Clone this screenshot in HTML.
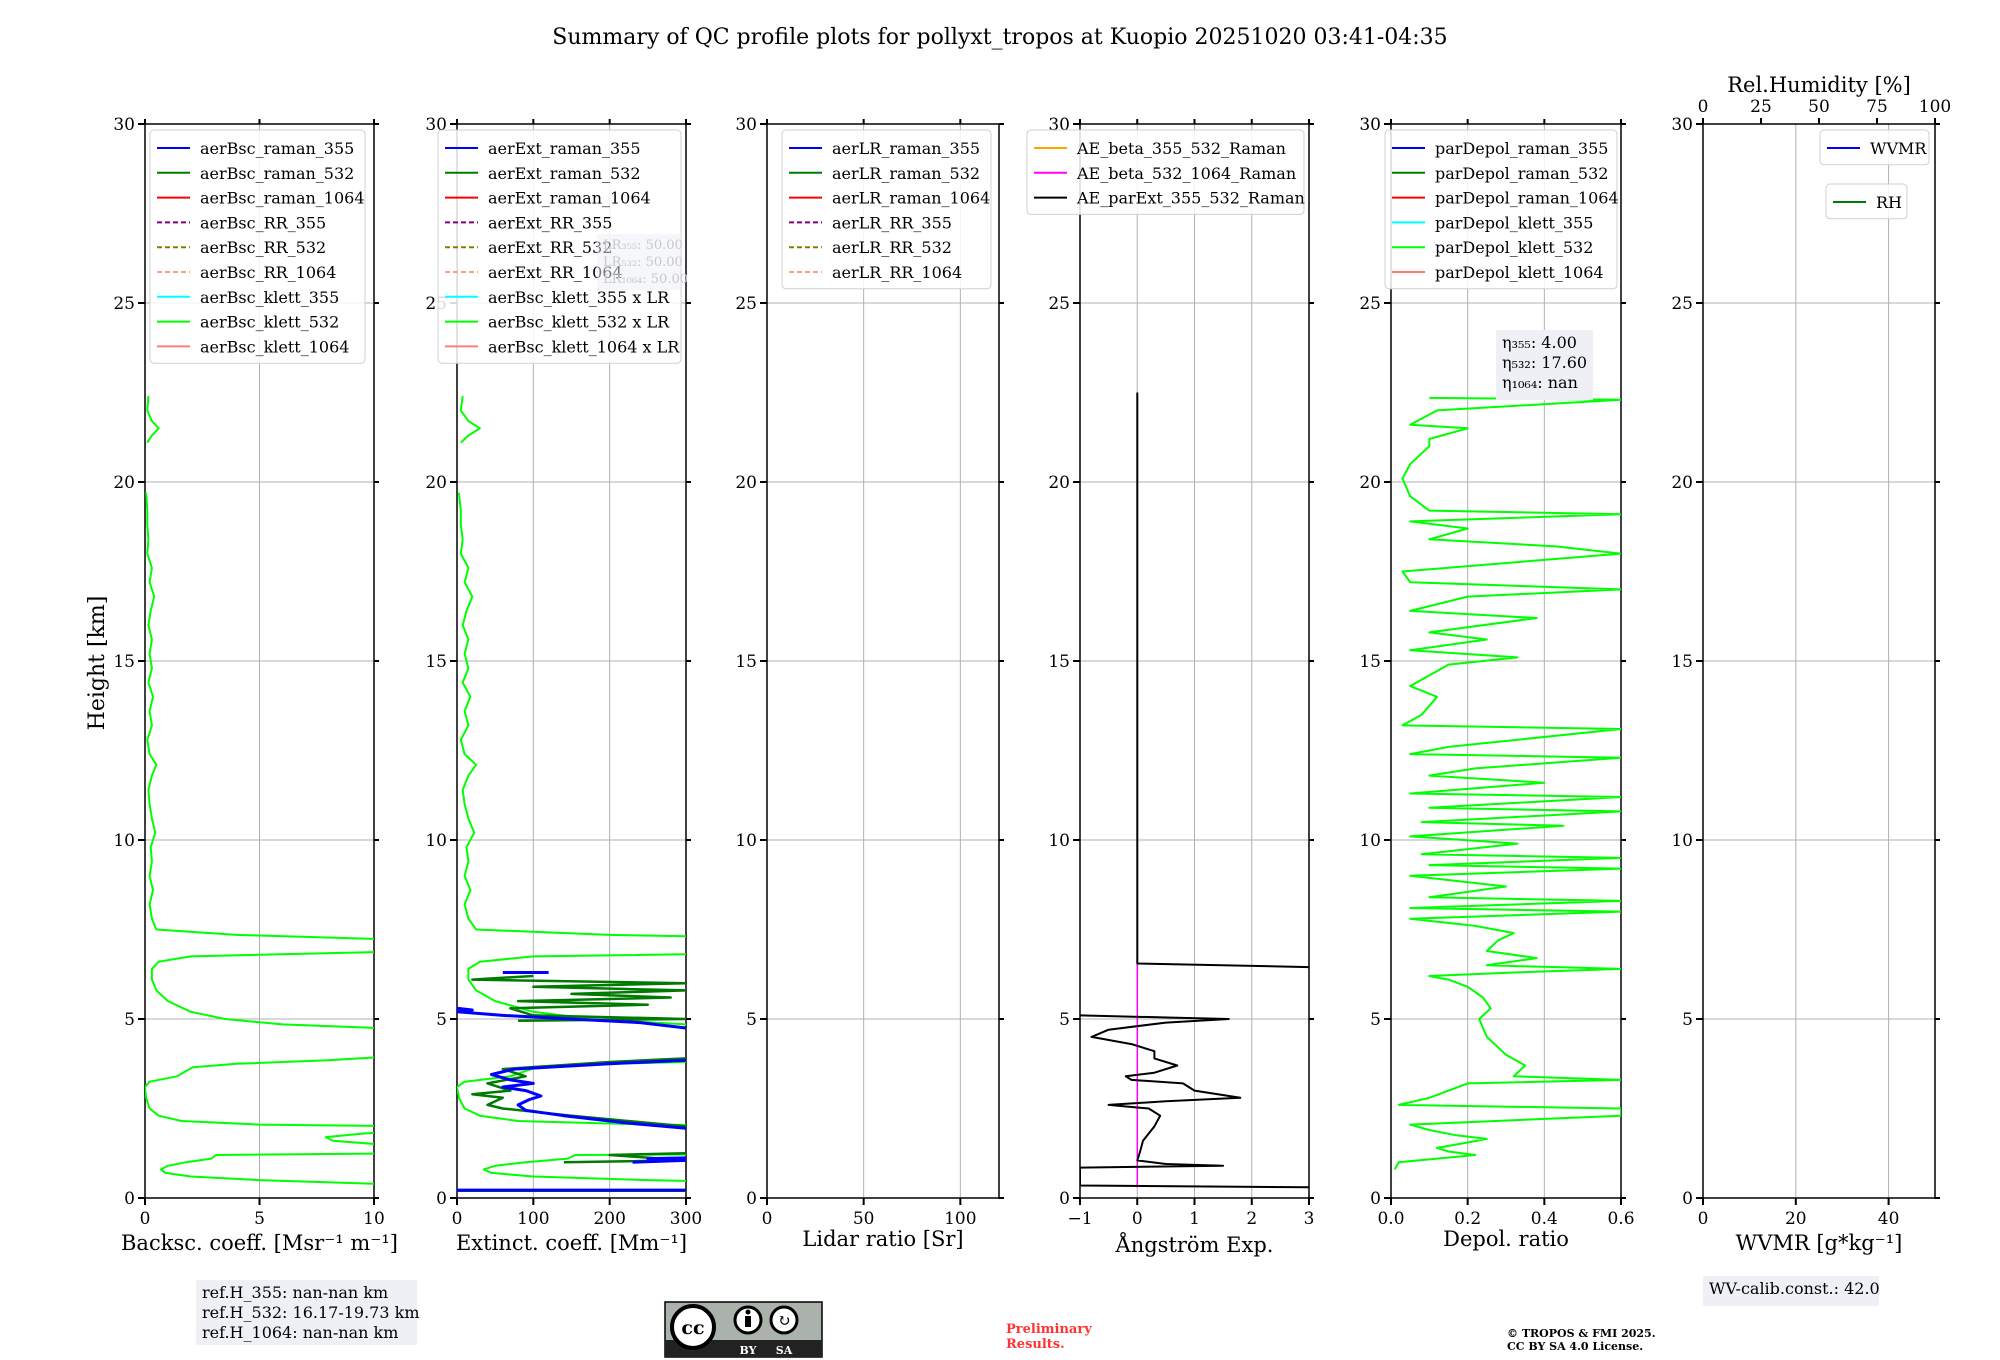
<!DOCTYPE html>
<html><head><meta charset="utf-8"><title>QC profiles</title>
<style>
html,body{margin:0;padding:0;background:#fff;}
svg{display:block;font-family:"DejaVu Serif","Liberation Serif",serif;}
</style></head>
<body>
<svg id="fig" width="2000" height="1360" viewBox="0 0 2000 1360" xmlns="http://www.w3.org/2000/svg">
<text x="1000" y="44" font-size="22" text-anchor="middle">Summary of QC profile plots for pollyxt_tropos at Kuopio 20251020 03:41-04:35</text>
<text transform="translate(104,663) rotate(-90)" font-size="22" text-anchor="middle">Height [km]</text>
</svg>
<script>
// ---- data ----
const heightTicks = [0,5,10,15,20,25,30];
const bscTicks = [0,5,10];
const extTicks = [0,100,200,300];
const lrTicks = [0,50,100];
const aeTicks = [-1,0,1,2,3];
const depTicks = [0.0,0.2,0.4,0.6];
const depTickLabels = ["0.0","0.2","0.4","0.6"];
const wvTicks = [0,20,40];
const rhTicks = [0,25,50,75,100];
const lidarRatio = [50,50,50];
// klett 532 backscatter profile [height km, value Msr-1 m-1]
const bscKlett532 = [[0.3,12],[0.4,10],[0.5,5],[0.6,2],[0.7,0.9],[0.8,0.7],[0.9,1.0],[1.0,1.8],[1.1,2.9],[1.2,3.1],[1.25,12],[1.35,12],[1.5,10.2],[1.6,8.2],[1.7,7.9],[1.8,9.5],[1.9,12],[2.0,12],[2.05,5],[2.15,1.6],[2.3,0.6],[2.5,0.2],[2.8,0.05],[3.1,0],[3.25,0.2],[3.4,1.4],[3.55,1.8],[3.65,2.1],[3.75,4],[3.85,8],[4.0,12],[4.7,12],[4.85,6],[5.0,3.5],[5.2,2],[5.5,1],[5.8,0.5],[6.1,0.3],[6.4,0.3],[6.6,0.6],[6.75,2],[6.9,12],[7.2,12],[7.35,4],[7.5,0.5],[7.8,0.3],[8.2,0.2],[8.6,0.35],[9.0,0.2],[9.4,0.3],[9.8,0.25],[10.2,0.45],[10.6,0.3],[11.0,0.2],[11.4,0.15],[11.8,0.3],[12.1,0.5],[12.4,0.2],[12.8,0.1],[13.2,0.3],[13.6,0.2],[14.0,0.35],[14.4,0.15],[14.8,0.3],[15.2,0.2],[15.6,0.3],[16.0,0.15],[16.4,0.25],[16.8,0.4],[17.2,0.2],[17.6,0.3],[18.0,0.1],[18.4,0.15],[18.8,0.1],[19.2,0.1],[19.7,0.05],null,[21.1,0.1],[21.3,0.3],[21.5,0.6],[21.7,0.3],[22.0,0.1],[22.4,0.15]];
// Raman extinction [height km, Mm-1]
const extRaman355 = [[0.22,0],[0.22,300],null,[1.0,230],[1.05,300],[1.1,250],[1.12,300],null,[1.95,300],[2.1,220],[2.3,140],[2.45,90],[2.6,80],[2.75,95],[2.85,110],[3.0,90],[3.1,60],[3.2,100],[3.3,70],[3.45,45],[3.6,75],[3.75,200],[3.85,300],null,[4.75,300],[4.9,240],[5.0,150],[5.1,60],[5.2,0],[5.25,20],[5.3,0],null,[6.3,60],[6.3,120]];
const extRaman532 = [[0.2,0],[0.2,300],null,[1.0,140],[1.05,300],[1.2,200],[1.25,300],null,[2.0,300],[2.3,150],[2.5,60],[2.6,40],[2.8,60],[2.9,20],[3.0,70],[3.2,40],[3.4,90],[3.6,60],[3.8,200],[3.9,300],null,[4.95,80],[5.0,300],[5.1,100],[5.3,70],[5.4,250],[5.5,80],[5.6,280],[5.7,150],[5.8,300],[5.9,100],[6.0,300],[6.1,20],[6.2,100]];
// Angstrom exponent parExt 355-532 [height km, AE]
const aeParExt = [[0.3,3],[0.35,-1],[0.85,-1],[0.9,1.5],[0.95,0.5],[1.05,0],[1.3,0.05],[1.6,0.1],[2.0,0.3],[2.3,0.4],[2.5,0.2],[2.6,-0.5],[2.7,0.5],[2.8,1.8],[3.0,1.0],[3.2,0.8],[3.3,-0.1],[3.4,-0.2],[3.5,0.3],[3.7,0.7],[3.9,0.3],[4.1,0.3],[4.3,-0.1],[4.5,-0.8],[4.7,-0.5],[4.9,0.5],[5.0,1.6],[5.1,-1],null,[6.45,3],[6.55,0],[22.5,0]];
const aeBeta532_1064 = [[0.3,0],[6.6,0]];
// particle depol klett 532 [height km, ratio]
const depKlett532 = [[0.8,0.01],[1.0,0.02],[1.1,0.12],[1.2,0.22],[1.3,0.15],[1.4,0.12],[1.55,0.2],[1.65,0.25],[1.75,0.17],[1.9,0.1],[2.05,0.05],[2.3,0.6],[2.5,0.6],[2.6,0.02],[2.8,0.1],[3.2,0.2],[3.3,0.6],[3.4,0.32],[3.7,0.35],[4.0,0.3],[4.5,0.25],[5.0,0.23],[5.3,0.26],[5.6,0.24],[5.9,0.2],[6.1,0.15],[6.2,0.1],[6.3,0.32],[6.4,0.6],[6.5,0.25],[6.7,0.38],[6.9,0.25],[7.2,0.28],[7.4,0.32],[7.6,0.22],[7.8,0.05],[8.0,0.6],[8.1,0.05],[8.3,0.6],[8.4,0.1],[8.7,0.3],[9.0,0.05],[9.2,0.6],[9.3,0.1],[9.5,0.6],[9.6,0.08],[9.9,0.33],[10.1,0.05],[10.4,0.45],[10.5,0.08],[10.8,0.6],[10.9,0.1],[11.2,0.6],[11.3,0.05],[11.6,0.4],[11.8,0.1],[12.0,0.22],[12.3,0.6],[12.4,0.05],[12.6,0.15],[13.1,0.6],[13.2,0.03],[13.5,0.08],[14.0,0.12],[14.3,0.05],[14.9,0.15],[15.1,0.33],[15.3,0.05],[15.6,0.25],[15.8,0.1],[16.2,0.38],[16.4,0.05],[16.8,0.2],[17.0,0.6],[17.2,0.05],[17.5,0.03],[18.0,0.6],[18.2,0.43],[18.4,0.1],[18.7,0.2],[18.9,0.05],[19.1,0.6],[19.2,0.1],[19.6,0.05],[20.1,0.03],[20.5,0.05],[21.0,0.1],[21.2,0.1],[21.5,0.2],[21.6,0.05],[22.0,0.12],[22.3,0.6],[22.35,0.1]];

// ---- drawing ----
const NS="http://www.w3.org/2000/svg";
const svg=document.getElementById('fig');
const TOP=124,BOT=1198;
function yH(h){return BOT-(h/30)*(BOT-TOP);}
function mk(tag,attrs,parent){const e=document.createElementNS(NS,tag);for(const k in attrs)e.setAttribute(k,attrs[k]);(parent||svg).appendChild(e);return e;}
function txt(x,y,s,size,anchor,parent){const t=mk('text',{x:x,y:y,'font-size':size,'text-anchor':anchor||'middle'},parent);t.textContent=s;return t;}

const panels=[
 {id:'bsc',x0:145,x1:374,min:0,max:10,ticks:bscTicks,labels:null,label:'Backsc. coeff. [Msr⁻¹ m⁻¹]',ly:1250},
 {id:'ext',x0:457,x1:686,min:0,max:300,ticks:extTicks,labels:null,label:'Extinct. coeff. [Mm⁻¹]',ly:1250},
 {id:'lr',x0:767,x1:999,min:0,max:120,ticks:lrTicks,labels:null,label:'Lidar ratio [Sr]',ly:1246},
 {id:'ae',x0:1080,x1:1309,min:-1,max:3,ticks:aeTicks,labels:null,label:'Ångström Exp.',ly:1252},
 {id:'depol',x0:1391,x1:1621,min:0,max:0.6,ticks:depTicks,labels:depTickLabels,label:'Depol. ratio',ly:1246},
 {id:'wv',x0:1703,x1:1935,min:0,max:50,ticks:wvTicks,labels:null,label:'WVMR [g*kg⁻¹]',ly:1250}
];
function xs(p,v){return p.x0+(v-p.min)/(p.max-p.min)*(p.x1-p.x0);}

panels.forEach((p,i)=>{
  const g=mk('g',{});
  
  
  const cp=mk('clipPath',{id:'clip'+i},g);
  mk('rect',{x:p.x0,y:TOP,width:p.x1-p.x0,height:BOT-TOP},cp);
  heightTicks.forEach(h=>{ if(h>0&&h<30){const l=mk('line',{x1:p.x0,x2:p.x1,y1:yH(h),y2:yH(h),stroke:'#b0b0b0','stroke-width':1},g);
    
    }});
  p.ticks.forEach(v=>{const x=xs(p,v); if(x>p.x0+1&&x<p.x1-1){const l=mk('line',{x1:x,x2:x,y1:TOP,y2:BOT,stroke:'#b0b0b0','stroke-width':1},g);
    
    }});
  const ax=mk('rect',{x:p.x0,y:TOP,width:p.x1-p.x0,height:BOT-TOP,fill:'none',stroke:'#000','stroke-width':1.5},g);
  
  
  heightTicks.forEach(h=>{
    const y=yH(h);
    mk('line',{x1:p.x0-7,x2:p.x0,y1:y,y2:y,stroke:'#000','stroke-width':2},g);
    mk('line',{x1:p.x1,x2:p.x1+5,y1:y,y2:y,stroke:'#000','stroke-width':2},g);
    const t=txt(p.x0-10,y+6,String(h),17,'end',g);
    
    
  });
  p.ticks.forEach((v,k)=>{
    const x=xs(p,v);
    mk('line',{x1:x,x2:x,y1:BOT,y2:BOT+7,stroke:'#000','stroke-width':2},g);
    if(p.id!=='wv') mk('line',{x1:x,x2:x,y1:TOP-5,y2:TOP,stroke:'#000','stroke-width':2},g);
    const s=p.labels?p.labels[k]:(v<0?'−'+(-v):String(v));
    const t=txt(x,BOT+26,s,17,'middle',g);
    
    
  });
  const lt=txt((p.x0+p.x1)/2,p.ly,p.label,21,'middle',g);
  
  
  p.g=mk('g',{'clip-path':'url(#clip'+i+')'},g);
});

function drawLine(p,pairs,color,width,name,scale){
  let d='',start=true;
  pairs.forEach(pt=>{
    if(pt===null){start=true;return;}
    const x=xs(p,pt[1]*(scale||1)), y=yH(pt[0]);
    d+=(start?'M':'L')+x.toFixed(1)+' '+y.toFixed(1)+' ';start=false;
  });
  const e=mk('path',{d:d,fill:'none',stroke:color,'stroke-width':width,'stroke-linejoin':'round'},p.g);
  
  
}
drawLine(panels[0],bscKlett532,'#00ff00',2,'bsc-klett-532-line');
drawLine(panels[1],bscKlett532,'#00ff00',2,'ext-klett-532-line',lidarRatio[1]);
drawLine(panels[1],extRaman532,'#007a00',2.5,'ext-raman-532-line');
drawLine(panels[1],extRaman355,'#0000ff',3,'ext-raman-355-line');
drawLine(panels[3],aeBeta532_1064,'#ff00ff',1.5,'ae-beta-532-1064-line');
drawLine(panels[3],aeParExt,'#000',2,'ae-parext-355-532-line');
drawLine(panels[4],depKlett532,'#00ff00',2,'depol-klett-532-line');

(function(){
  const p=panels[5];
  rhTicks.forEach(v=>{
    const x=p.x0+v/100*(p.x1-p.x0);
    mk('line',{x1:x,x2:x,y1:TOP-6,y2:TOP,stroke:'#000','stroke-width':2});
    const t=txt(x,TOP-12,String(v),17,'middle');
    
    
  });
  const t=txt((p.x0+p.x1)/2,TOP-32,'Rel.Humidity [%]',21,'middle');
  
  
})();

function legend(x,y,w,entries,name,rowH){
  rowH=rowH||24.8;
  const g=mk('g',{});
  
  
  mk('rect',{x:x,y:y,width:w,height:entries.length*rowH+10,rx:4,fill:'#fff','fill-opacity':0.85,stroke:'#d0d0d0'},g);
  entries.forEach((e,k)=>{
    const cy=y+18+k*rowH;
    const l=mk('line',{x1:x+7,x2:x+40,y1:cy,y2:cy,stroke:e[1],'stroke-width':2},g);
    if(e[2]) l.setAttribute('stroke-dasharray','5,3');
    const t=txt(x+50,cy+6,e[0],16,'start',g);
    
    
  });
}
legend(150,130,215,[['aerBsc_raman_355','#0000ff'],['aerBsc_raman_532','#007a00'],['aerBsc_raman_1064','#ff0000'],['aerBsc_RR_355','#800080',1],['aerBsc_RR_532','#808000',1],['aerBsc_RR_1064','#ffa07a',1],['aerBsc_klett_355','#00ffff'],['aerBsc_klett_532','#00ff00'],['aerBsc_klett_1064','#fa8072']],'bsc-legend');
legend(438,130,243,[['aerExt_raman_355','#0000ff'],['aerExt_raman_532','#007a00'],['aerExt_raman_1064','#ff0000'],['aerExt_RR_355','#800080',1],['aerExt_RR_532','#808000',1],['aerExt_RR_1064','#ffa07a',1],['aerBsc_klett_355 x LR','#00ffff'],['aerBsc_klett_532 x LR','#00ff00'],['aerBsc_klett_1064 x LR','#fa8072']],'ext-legend');
legend(782,130,209,[['aerLR_raman_355','#0000ff'],['aerLR_raman_532','#007a00'],['aerLR_raman_1064','#ff0000'],['aerLR_RR_355','#800080',1],['aerLR_RR_532','#808000',1],['aerLR_RR_1064','#ffa07a',1]],'lr-legend');
legend(1027,130,277,[['AE_beta_355_532_Raman','#ffa500'],['AE_beta_532_1064_Raman','#ff00ff'],['AE_parExt_355_532_Raman','#000']],'ae-legend');
legend(1385,130,232,[['parDepol_raman_355','#0000ff'],['parDepol_raman_532','#007a00'],['parDepol_raman_1064','#ff0000'],['parDepol_klett_355','#00ffff'],['parDepol_klett_532','#00ff00'],['parDepol_klett_1064','#fa8072']],'depol-legend');
legend(1820,130,109,[['WVMR','#0000ff']],'wvmr-legend');
legend(1826,184,81,[['RH','#007a00']],'rh-legend');

function box(x,y,w,h,lines,name,size,color,opac){
  const g=mk('g',{});
  
  
  mk('rect',{x:x,y:y,width:w,height:h,fill:'#eef0f5','fill-opacity':opac||1},g);
  lines.forEach((s,k)=>{const t=txt(x+6,y+size+2+k*(size+4),s,size,'start',g); if(color)t.setAttribute('fill',color);});
}
box(597,234,84,56,['LR₃₅₅: 50.00','LR₅₃₂: 50.00','LR₁₀₆₄: 50.00'],'lr-info-box',13,'#c8c8c8',0.5);
box(1496,330,97,70,['η₃₅₅: 4.00','η₅₃₂: 17.60','η₁₀₆₄: nan'],'eta-info-box',16);
box(196,1280,221,65,['ref.H_355: nan-nan km','ref.H_532: 16.17-19.73 km','ref.H_1064: nan-nan km'],'ref-height-box',16);
box(1703,1276,176,30,['WV-calib.const.: 42.0'],'wv-calib-box',16);

(function(){
  const g=mk('g',{});
  
  
  mk('rect',{x:665,y:1302,width:157,height:55,fill:'#aab2ab',stroke:'#000','stroke-width':1.5},g);
  mk('rect',{x:665,y:1340,width:157,height:17,fill:'#222'},g);
  mk('circle',{cx:693,cy:1327,r:21,fill:'#fff',stroke:'#000','stroke-width':4},g);
  txt(693,1334,'cc',19,'middle',g).setAttribute('font-weight','bold');
  mk('circle',{cx:748,cy:1320,r:13,fill:'#fff',stroke:'#000','stroke-width':3},g);
  mk('rect',{x:745,y:1316,width:6,height:11,fill:'#000'},g);
  mk('circle',{cx:748,cy:1312,r:2.5,fill:'#000'},g);
  mk('circle',{cx:784,cy:1320,r:13,fill:'#fff',stroke:'#000','stroke-width':3},g);
  txt(784,1326,'↻',16,'middle',g);
  const b=txt(748,1354,'BY',11,'middle',g);b.setAttribute('fill','#fff');b.setAttribute('font-weight','bold');
  const s=txt(784,1354,'SA',11,'middle',g);s.setAttribute('fill','#fff');s.setAttribute('font-weight','bold');
})();
(function(){
  const t1=txt(1006,1333,'Preliminary',13,'start');t1.setAttribute('fill','#ff3333');t1.setAttribute('font-weight','bold');
  
  
  const t2=txt(1006,1348,'Results.',13,'start');t2.setAttribute('fill','#ff3333');t2.setAttribute('font-weight','bold');
  
  
  const c1=txt(1507,1337,'© TROPOS & FMI 2025.',11,'start');c1.setAttribute('font-weight','bold');
  
  
  const c2=txt(1507,1350,'CC BY SA 4.0 License.',11,'start');c2.setAttribute('font-weight','bold');
  
  
})();
</script>
</body></html>
